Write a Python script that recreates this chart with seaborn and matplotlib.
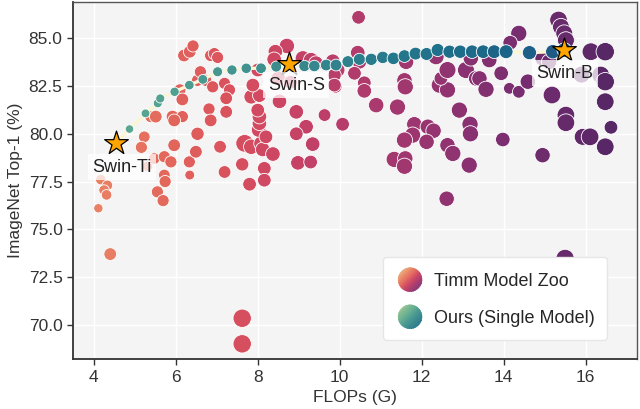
import numpy as np
import pandas as pd
import matplotlib
matplotlib.use("Agg")
import matplotlib.pyplot as plt
from matplotlib.legend_handler import HandlerBase
from matplotlib.patches import Polygon
from matplotlib.lines import Line2D
import seaborn as sns


# ---- data --------------------------------------------------------------- #

timm_flops = [
    4.11, 4.17, 4.33, 4.25, 4.31, 4.40, 5.23, 5.16, 5.31, 5.39, 5.51,
    5.47, 5.55, 5.69, 5.72, 5.88, 5.72, 5.74, 5.96, 5.92, 6.16, 5.96, 6.10, 6.16,
    6.20, 6.34, 6.42, 6.33, 6.34, 6.49, 6.53, 6.53, 6.60, 6.73, 6.81, 6.85, 6.85,
    6.94, 7.02, 6.90, 7.19, 7.31, 7.23, 7.23, 7.08, 7.19, 7.62,
    7.68, 7.84, 8.08, 8.12, 8.37, 8.16, 8.16, 7.80, 8.02, 8.04, 8.04, 8.00,
    8.20, 7.84, 8.04, 7.88, 8.00, 8.53, 8.94, 9.18, 9.34, 8.94, 8.98, 9.29,
    9.63, 8.71, 8.43, 8.40, 9.10, 9.30, 9.42, 9.83, 9.95, 9.90, 9.87, 9.87,
    7.62, 7.62, 8.50, 8.80,
    10.07, 10.46, 10.44, 10.48, 10.36, 10.60, 10.60, 10.89, 11.41, 11.58, 11.60,
    11.62, 11.82, 12.15, 12.29, 11.78, 11.58, 12.12, 11.33, 11.60, 11.58,
    12.43, 12.63, 12.47, 12.63, 13.08, 13.33, 12.35, 13.20, 12.92, 12.63, 12.76,
    13.18, 13.19, 13.16, 12.61, 13.65, 13.41, 13.94, 13.57, 14.14, 14.37, 14.59,
    13.98, 14.37, 14.16,
    15.34, 15.40, 15.48, 15.52, 16.13, 16.48, 14.95, 15.11, 15.18, 16.37, 16.48,
    16.48, 15.52, 15.52, 16.62, 15.93, 16.11, 16.48, 14.95, 15.50, 15.90,
]
timm_acc = [
    76.10, 77.60, 77.30, 77.05, 76.80, 73.70, 79.84, 79.29, 78.30, 80.90, 80.90,
    78.70, 76.96, 76.50, 78.80, 78.53, 77.84, 77.50, 79.40, 80.90, 80.90, 80.70, 82.30, 81.80,
    84.10, 84.30, 84.60, 78.53, 77.84, 79.06, 80.00, 82.80, 83.25, 82.80, 81.30, 80.70, 84.10,
    84.20, 84.00, 82.46, 82.64, 82.30, 81.86, 81.15, 79.32, 78.00, 78.40,
    79.50, 79.32, 79.50, 79.18, 78.94, 78.19, 77.57, 77.36, 80.20, 80.55, 80.90, 81.24,
    79.84, 81.94, 82.00, 82.55, 83.34, 81.70, 81.15, 80.37, 79.46, 80.00, 78.48, 78.52,
    80.98, 84.60, 84.30, 83.90, 83.95, 83.86, 83.70, 83.80, 83.34, 82.46, 83.07, 82.55,
    70.34, 69.00, 82.90, 82.70,
    80.50, 86.10, 84.25, 83.77, 83.17, 82.67, 82.25, 81.50, 81.40, 82.80, 82.46,
    83.77, 80.50, 80.37, 80.16, 79.93, 79.67, 79.58, 78.66, 78.71, 78.30,
    82.55, 82.30, 82.90, 83.34, 83.34, 82.90, 84.04, 83.95, 81.24, 79.40, 78.97,
    80.50, 80.00, 78.36, 76.60, 83.86, 82.90, 83.17, 82.33, 82.38, 82.20, 82.73,
    79.70, 85.26, 84.77,
    85.96, 85.60, 85.26, 84.90, 84.30, 84.30, 83.95, 83.77, 82.03, 83.08, 82.73,
    81.68, 80.98, 80.58, 80.34, 79.84, 79.84, 79.32, 78.88, 73.47, 83.10,
]
timm_params = [
    10, 15, 15, 15, 15, 25, 20, 22, 15, 22, 25,
    20, 22, 22, 22, 22, 20, 22, 25, 25, 22, 25, 22, 25,
    25, 25, 22, 22, 12, 25, 28, 22, 22, 22, 22, 25, 22,
    22, 22, 22, 22, 22, 25, 25, 25, 25, 28,
    55, 40, 35, 35, 35, 30, 30, 30, 35, 35, 35, 30,
    30, 35, 30, 30, 30, 35, 35, 35, 35, 30, 35, 30,
    25, 40, 35, 35, 40, 40, 35, 35, 35, 25, 30, 30,
    60, 60, 35, 30,
    30, 30, 35, 35, 30, 30, 35, 40, 45, 40, 45,
    40, 40, 40, 40, 45, 45, 40, 45, 40, 45,
    45, 45, 30, 50, 50, 40, 45, 40, 45, 40, 45,
    45, 45, 45, 40, 40, 40, 35, 45, 20, 25, 40,
    35, 45, 35,
    55, 50, 50, 50, 55, 60, 40, 40, 55, 55, 60,
    55, 55, 55, 30, 50, 55, 55, 40, 60, 50,
]

ours_flops = [
    4.53, 4.87, 5.26, 5.56, 5.62, 5.97, 6.33, 6.66, 7.02, 7.37, 7.72, 8.08,
    8.45, 8.77, 9.14, 9.38, 9.67, 9.91, 10.20, 10.48, 10.77, 11.05, 11.31,
    11.58, 11.85, 12.12, 12.39, 12.68, 12.94, 13.23, 13.50, 13.77, 14.06,
    14.63, 15.20, 15.48,
]
ours_acc = [
    79.51, 80.25, 81.07, 81.60, 81.85, 82.20, 82.55, 82.85, 83.25, 83.34, 83.43, 83.43,
    83.52, 83.65, 83.55, 83.55, 83.60, 83.60, 83.78, 83.90, 83.90, 84.00, 83.95,
    84.07, 84.20, 84.18, 84.39, 84.30, 84.30, 84.30, 84.30, 84.30, 84.30,
    84.25, 84.30, 84.39,
]

swin_names = ["Swin-Ti", "Swin-S", "Swin-B"]
swin_flops = [4.53, 8.77, 15.48]
swin_acc = [79.51, 83.65, 84.39]

Y_TICKS = [70.0, 72.5, 75.0, 77.5, 80.0, 82.5, 85.0]
X_TICKS = [4, 6, 8, 10, 12, 14, 16]


class GradientDot(HandlerBase):
    """Legend handle: circle filled with a diagonal colour gradient."""

    def __init__(self, cmap, lo, hi, n=16):
        super().__init__()
        self.cmap, self.lo, self.hi, self.n = cmap, lo, hi, n

    def create_artists(self, legend, orig_handle, xdescent, ydescent,
                       width, height, fontsize, trans):
        r = fontsize * 0.66
        cx = -xdescent + width / 2
        cy = -ydescent + height / 2
        d = np.array([1.0, -1.0]) / np.sqrt(2)
        e = np.array([1.0, 1.0]) / np.sqrt(2)
        edges = np.linspace(-r, r, self.n + 1)
        arts = []
        for i in range(self.n):
            us = np.linspace(edges[i], edges[i + 1], 8)
            vs = np.sqrt(np.clip(r ** 2 - us ** 2, 0, None))
            pts = [(u, v) for u, v in zip(us, vs)] + [(u, -v) for u, v in zip(us[::-1], vs[::-1])]
            xy = [(cx + u * d[0] + v * e[0], cy + u * d[1] + v * e[1]) for u, v in pts]
            col = self.cmap(self.lo + (self.hi - self.lo) * (i + 0.5) / self.n)
            arts.append(Polygon(xy, closed=True, facecolor=col, edgecolor=col, lw=0.4, transform=trans))
        return arts


def main() -> None:
    sns.set_theme(style="darkgrid", rc={
        "axes.facecolor": "#f4f4f4",
        "grid.color": "white",
        "grid.linewidth": 1.0,
        "axes.edgecolor": "#333333",
    })
    plt.rcParams["font.family"] = ["Liberation Sans", "DejaVu Sans"]

    timm = pd.DataFrame({"flops": timm_flops, "acc": timm_acc, "params": timm_params})
    ours = pd.DataFrame({"flops": ours_flops, "acc": ours_acc})
    swin = pd.DataFrame({"name": swin_names, "flops": swin_flops, "acc": swin_acc})

    fig, ax = plt.subplots(figsize=(6.4, 4.09), dpi=100)
    fig.subplots_adjust(left=0.114, right=0.995, bottom=0.122, top=0.995)

    sns.scatterplot(data=timm, x="flops", y="acc", hue="flops", size="params",
                    palette="flare", hue_norm=(1.0, 17.5), sizes=(45, 175), size_norm=(10, 60),
                    edgecolor="white", linewidth=0.6, legend=False, ax=ax, zorder=2)

    sns.lineplot(data=ours, x="flops", y="acc", sort=False, color="#fbf6d2",
                 linewidth=2.4, ax=ax, zorder=3)
    sns.scatterplot(data=ours, x="flops", y="acc", hue="flops", size="flops",
                    palette="crest", hue_norm=(-1.0, 20.0), sizes=(35, 110),
                    edgecolor="white", linewidth=0.6, legend=False, ax=ax, zorder=4)

    sns.scatterplot(data=swin, x="flops", y="acc", marker="*", s=320, color="#ffa500",
                    edgecolor="black", linewidth=0.9, legend=False, ax=ax, zorder=6)

    label_pos = {"Swin-Ti": (4.68, 78.25), "Swin-S": (8.94, 82.55), "Swin-B": (15.5, 83.18)}
    for name in swin_names:
        tx, ty = label_pos[name]
        ax.text(tx, ty, name, fontsize=13, color="#222222", ha="center", va="center", zorder=7,
                bbox=dict(boxstyle="square,pad=0.25", fc="white", ec="none", alpha=0.75))

    ax.set_xlim(3.49, 17.25)
    ax.set_ylim(68.2, 86.9)
    ax.set_xticks(X_TICKS)
    ax.set_yticks(Y_TICKS)
    ax.set_yticklabels([f"{v:.1f}" for v in Y_TICKS])
    ax.tick_params(axis="both", which="major", labelsize=12.5, colors="#333333",
                   length=4, width=1.0, direction="out", bottom=True, left=True)
    ax.set_xlabel("FLOPs (G)", fontsize=12.5, color="#333333")
    ax.set_ylabel("ImageNet Top-1 (%)", fontsize=12.5, color="#333333")

    for side in ["left", "bottom"]:
        ax.spines[side].set_color("#333333")
        ax.spines[side].set_linewidth(1.3)
    for side in ["top", "right"]:
        ax.spines[side].set_color("#555555")
        ax.spines[side].set_linewidth(1.0)

    h1 = Line2D([], [], label="Timm Model Zoo")
    h2 = Line2D([], [], label="Ours (Single Model)")
    flare = sns.color_palette("flare", as_cmap=True)
    crest = sns.color_palette("crest", as_cmap=True)
    leg = ax.legend(handles=[h1, h2], loc="lower right", bbox_to_anchor=(0.947, 0.054),
                    fontsize=13, frameon=True, fancybox=True, framealpha=1.0,
                    facecolor="white", edgecolor="#e6e6e6", labelspacing=0.9,
                    handlelength=1.6, handleheight=1.4, handletextpad=0.5,
                    borderpad=0.7, borderaxespad=0.0,
                    handler_map={h1: GradientDot(flare, 0.0, 0.75),
                                 h2: GradientDot(crest, 0.05, 0.6)})
    leg.set_zorder(10)

    fig.savefig("out.png", dpi=100)
    plt.close(fig)


if __name__ == "__main__":
    main()
